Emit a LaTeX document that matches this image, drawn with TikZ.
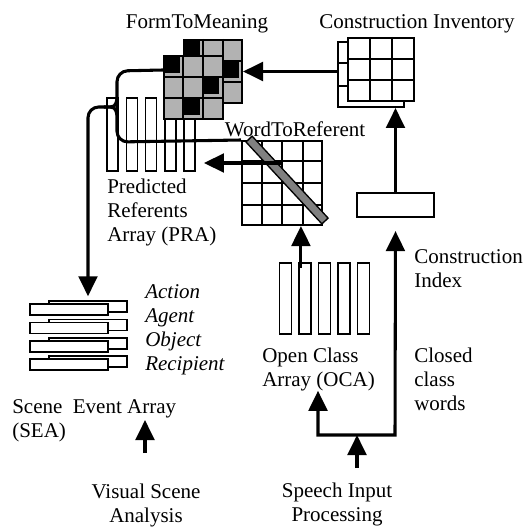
\documentclass[tikz,border=0pt]{standalone}
\usepackage{fontspec}
\setmainfont{Liberation Serif}
\usetikzlibrary{arrows.meta,calc,fit}

\begin{document}
\begin{tikzpicture}[x=0.75pt,y=-0.75pt,
  >={Triangle[length=15pt,width=14pt]},
  wire/.style={line width=2.3pt},
  bar/.style={draw,line width=1.1pt,inner sep=0pt,fill=white},
  box/.style={draw,line width=1.5pt,inner sep=0pt},
  gridln/.style={line width=1.5pt},
  lbl/.style={font=\fontsize{15.75}{18}\selectfont,inner sep=0pt,align=left,anchor=base west},
  ctr/.style={font=\fontsize{15.75}{18}\selectfont,inner sep=0pt,align=center,anchor=base},
  role/.style={lbl,font=\fontsize{15.75}{18}\selectfont\itshape}]
\useasboundingbox (0,0) rectangle (525,527);

% predicted referents array
\foreach \i [evaluate=\i as \x using 107+19.3*(\i-1)] in {1,...,5}
  \node[bar,fit={(\x,98) ({\x+11},171)}] (pra\i) {};

% form to meaning, two layers
\node[box,fill=black!30,fit={(183.5,40) (242,103)}] (ftmback) {};
\fill (183.5,40) rectangle ++(16,17);
\fill (222.5,61) rectangle ++(16,17);
\foreach \k in {1,2} {
  \draw[gridln] ($(ftmback.north west)!\k/3!(ftmback.north east)$) -- ($(ftmback.south west)!\k/3!(ftmback.south east)$);
  \draw[gridln] ($(ftmback.north west)!\k/3!(ftmback.south west)$) -- ($(ftmback.north east)!\k/3!(ftmback.south east)$);
}
\node[box,fill=black!30,fit={(164,56) (222.5,119)}] (ftm) {};
\fill (164,56) rectangle ++(16,17);
\fill (203,77) rectangle ++(16,17);
\fill (183.5,98) rectangle ++(16,17);
\foreach \k in {1,2} {
  \draw[gridln] ($(ftm.north west)!\k/3!(ftm.north east)$) -- ($(ftm.south west)!\k/3!(ftm.south east)$);
  \draw[gridln] ($(ftm.north west)!\k/3!(ftm.south west)$) -- ($(ftm.north east)!\k/3!(ftm.south east)$);
}

% construction inventory
\node[box,fill=white,fit={(338,42) (404,107)}] (ciback) {};
\foreach \k in {1,2}
  \draw[gridln] ($(ciback.north west)!\k/3!(ciback.south west)$) -- ($(ciback.north east)!\k/3!(ciback.south east)$);
\node[box,fill=white,fit={(348,38) (414,101)}] (ci) {};
\foreach \k in {1,2} {
  \draw[gridln] ($(ci.north west)!\k/3!(ci.north east)$) -- ($(ci.south west)!\k/3!(ci.south east)$);
  \draw[gridln] ($(ci.north west)!\k/3!(ci.south west)$) -- ($(ci.north east)!\k/3!(ci.south east)$);
}

% word to referent
\node[box,fit={(242,141) (322,225)}] (wtr) {};
\foreach \k in {1,2,3} {
  \draw[gridln] ($(wtr.north west)!\k/4!(wtr.north east)$) -- ($(wtr.south west)!\k/4!(wtr.south east)$);
  \draw[gridln] ($(wtr.north west)!\k/4!(wtr.south west)$) -- ($(wtr.north east)!\k/4!(wtr.south east)$);
}

% construction index
\node[bar,fit={(357,193) (434,217)}] (ind) {};

% open class array
\foreach \i [evaluate=\i as \x using 279.5+19.5*(\i-1)] in {1,...,5}
  \node[bar,fit={(\x,263) ({\x+12},334)}] (oca\i) {};

% scene event array
\foreach \i [evaluate=\i as \y using 304+18.4*(\i-1)] in {1,...,4} {
  \node[bar,fit={(49,{\y-3}) (127,{\y+8})}] (seab\i) {};
  \node[bar,fit={(30,\y) (108,{\y+11})}] (seaf\i) {};
}

% labels (base = last line)
\node[ctr] (ftmlbl) at (197,29) {FormToMeaning};
\node[ctr] (cilbl) at (417,29) {Construction Inventory};
\node[ctr] (wtrlbl) at (295,137) {WordToReferent};
\node[lbl] (pralbl) at (107,241) {Predicted\\Referents\\Array (PRA)};
\node[role] (roles) at (145,370) {Action\\Agent\\Object\\Recipient};
\node[lbl] (sealbl) at (12,437) {Scene\ \ Event Array\\(SEA)};
\node[ctr] (vislbl) at (146,522) {Visual Scene\\Analysis};
\node[ctr] (splbl) at (337,521) {Speech Input\\Processing};
\node[lbl] (cixlbl) at (414,287) {Construction\\Index};
\node[lbl] (ocalbl) at (262,386) {Open Class\\Array (OCA)};
\node[lbl] (ccwlbl) at (414,410) {Closed\\class\\words};

% loop from form to meaning round to word to referent
\draw[wire,rounded corners=8pt] ($(ftm.north west)+(0,15)$) -- (117,71) -- (117,142) -- (wtr.north west);
\fill[gray,draw=black,line width=1pt] (246,142) -- (252.1,136.1) -- (328.1,218.1) -- (321.9,223.9) -- cycle;

% out to the scene event array
\coordinate (join) at (104,107);
\coordinate (tosea) at (88,107);
\draw[wire] (117,99) .. controls (115,107) .. (join);
\draw[wire] (117,115) .. controls (115,107) .. (join);
\draw[wire,->,rounded corners=8pt,shorten >=3pt] (join) -- (tosea) -- (tosea |- seab1.north);

% arrows
\draw[wire,->] (ftmback.east -| ciback.west) -- (ftmback.east);
\draw[wire,->] (ind.north) -- (ind.north |- ciback.south);
\coordinate (wtrout) at (282,163);
\draw[wire,->] (wtrout) -- ([xshift=6pt]pra5.east |- wtrout);
\draw[wire,->] ([xshift=2pt,yshift=-4pt]oca2.north west) -- ([xshift=2pt]oca2.north west |- wtr.south);

\coordinate (busl) at (318,435);
\coordinate (busr) at (395,435);
\draw[wire,<->] (busl |- ocalbl.south) -- (busl) -- (busr) -- ([yshift=-10pt]ind.south);
\coordinate (spin) at (357,468);
\draw[wire,->] (spin) -- (spin |- busl);
\coordinate (vis) at (145,453);
\draw[wire,->] (vis) -- ++(0,-33);
\end{tikzpicture}
\end{document}
